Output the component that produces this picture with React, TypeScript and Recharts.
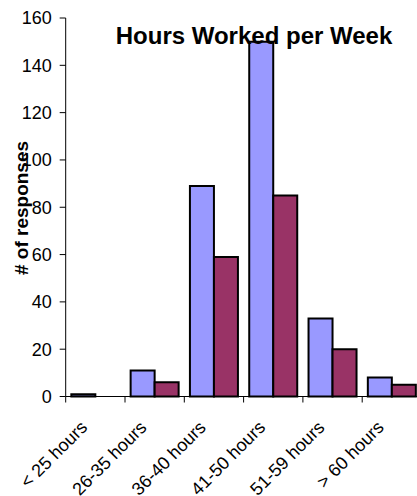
import React from 'react';
import { BarChart, Bar, XAxis, YAxis } from 'recharts';

const categories = ['< 25 hours', '26-35 hours', '36-40 hours', '41-50 hours', '51-59 hours', '> 60 hours'];
const seriesA = [1, 11, 89, 150, 33, 8];
const seriesB = [0, 6, 59, 85, 20, 5];
const yTicks = [0, 20, 40, 60, 80, 100, 120, 140, 160];

const data = categories.map((name, i) => ({ name, a: seriesA[i], b: seriesB[i] }));

const FONT = '"Liberation Sans", Arial, sans-serif';
const CHART_W = 430;
const CHART_H = 496;
const MARGIN = { top: 18, right: 8.5, left: 0, bottom: 0 };
const Y_AXIS_W = 65.7;
const X_AXIS_H = 99.5;
const BAND = (CHART_W - MARGIN.left - MARGIN.right - Y_AXIS_W) / categories.length;

// category label rotated -45deg, plus a tick mark on the category's left edge
const XTick = (props: any) => {
  const { x, y, payload } = props;
  const bx = x - BAND / 2;
  const tx = x - 7;
  const ty = y + 32;
  return (
    <g>
      <line x1={bx} y1={y} x2={bx} y2={y + 6} stroke="#000" strokeWidth={1} />
      <text
        x={tx}
        y={ty}
        transform={`rotate(-45, ${tx}, ${ty})`}
        textAnchor="end"
        fontSize={18}
        fontFamily={FONT}
        fill="#000"
      >
        {payload.value}
      </text>
    </g>
  );
};

const YLabel = () => (
  <text
    x={21}
    y={208}
    transform="rotate(-90, 21, 208)"
    textAnchor="middle"
    dominantBaseline="central"
    fontSize={19}
    fontWeight="bold"
    fontFamily={FONT}
    fill="#000"
  >
    # of responses
  </text>
);

export default function App() {
  return (
    <div style={{ position: 'absolute', left: 0, top: 0, width: 417, height: 496, overflow: 'hidden', background: '#fff' }}>
      <BarChart
        width={CHART_W}
        height={CHART_H}
        data={data}
        margin={MARGIN}
        barCategoryGap="9.5%"
        barGap={0}
      >
        <XAxis
          dataKey="name"
          height={X_AXIS_H}
          interval={0}
          tickLine={false}
          tickSize={0}
          tickMargin={0}
          axisLine={{ stroke: '#000', strokeWidth: 1 }}
          tick={<XTick />}
        />
        <YAxis
          width={Y_AXIS_W}
          domain={[0, 160]}
          ticks={yTicks}
          interval={0}
          tickSize={6}
          tickMargin={8}
          axisLine={{ stroke: '#000', strokeWidth: 1 }}
          tickLine={{ stroke: '#000', strokeWidth: 1 }}
          tick={{ fontSize: 18, fontFamily: FONT, fill: '#000' }}
          label={{ content: () => <YLabel /> }}
        />
        <Bar dataKey="a" fill="#9999FF" stroke="#000" strokeWidth={2} isAnimationActive={false} />
        <Bar dataKey="b" fill="#993366" stroke="#000" strokeWidth={2} isAnimationActive={false} />
      </BarChart>
      <svg width={417} height={496} style={{ position: 'absolute', left: 0, top: 0, pointerEvents: 'none' }}>
        <text x={254} y={44} textAnchor="middle" fontSize={24} fontWeight="bold" fontFamily={FONT} fill="#000">
          Hours Worked per Week
        </text>
      </svg>
    </div>
  );
}
